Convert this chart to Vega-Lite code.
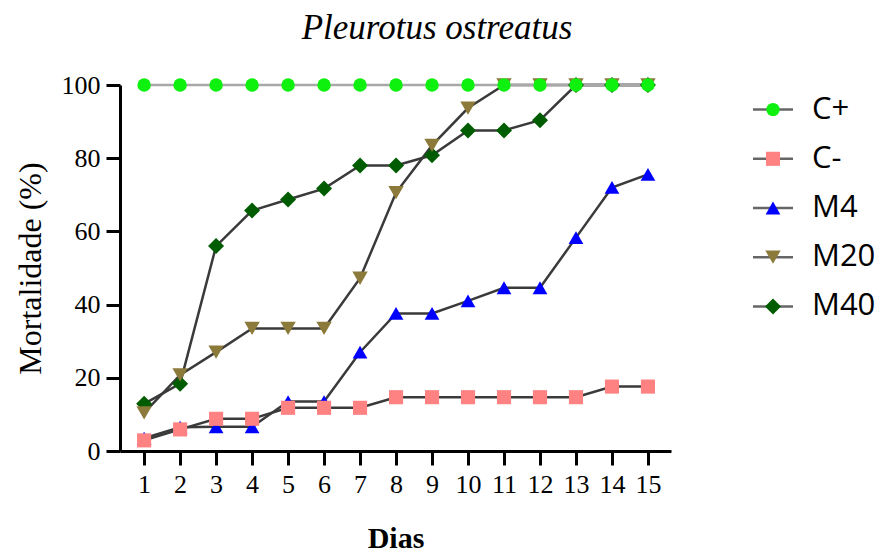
{
  "$schema": "https://vega.github.io/schema/vega-lite/v6.json",
  "background": "white",
  "padding": {"left": 14, "top": 11, "right": 0, "bottom": 0},
  "title": {
    "text": "Pleurotus ostreatus",
    "font": "Liberation Serif",
    "fontStyle": "italic",
    "fontWeight": "normal",
    "fontSize": 35,
    "color": "#000",
    "anchor": "middle",
    "dx": -10,
    "offset": 26
  },
  "config": {
    "view": {"stroke": null},
    "axis": {
      "domainColor": "#000",
      "domainWidth": 3,
      "tickColor": "#000",
      "tickWidth": 3,
      "tickSize": 14,
      "grid": false,
      "labelFont": "Liberation Serif",
      "labelFontSize": 26,
      "labelColor": "#000",
      "titleFont": "Liberation Serif",
      "titleColor": "#000"
    }
  },
  "spacing": 80,
  "datasets": {
    "mort": [
      {"dia": 1, "C+": 100, "C-": 2.9, "M4": 3.5, "M20": 10.4, "M40": 12.9},
      {"dia": 2, "C+": 100, "C-": 5.9, "M4": 6.5, "M20": 20.8, "M40": 18.4},
      {"dia": 3, "C+": 100, "C-": 8.8, "M4": 6.6, "M20": 27.0, "M40": 56.0},
      {"dia": 4, "C+": 100, "C-": 8.8, "M4": 6.6, "M20": 33.5, "M40": 65.7},
      {"dia": 5, "C+": 100, "C-": 11.8, "M4": 13.5, "M20": 33.5, "M40": 68.7},
      {"dia": 6, "C+": 100, "C-": 11.8, "M4": 13.5, "M20": 33.5, "M40": 71.7},
      {"dia": 7, "C+": 100, "C-": 11.8, "M4": 27.0, "M20": 47.2, "M40": 78.0},
      {"dia": 8, "C+": 100, "C-": 14.7, "M4": 37.6, "M20": 70.6, "M40": 78.0},
      {"dia": 9, "C+": 100, "C-": 14.7, "M4": 37.6, "M20": 83.5, "M40": 80.8},
      {"dia": 10, "C+": 100, "C-": 14.7, "M4": 41.0, "M20": 93.7, "M40": 87.6},
      {"dia": 11, "C+": 100, "C-": 14.7, "M4": 44.6, "M20": 100, "M40": 87.6},
      {"dia": 12, "C+": 100, "C-": 14.7, "M4": 44.6, "M20": 100, "M40": 90.4},
      {"dia": 13, "C+": 100, "C-": 14.7, "M4": 58.3, "M20": 100, "M40": 100},
      {"dia": 14, "C+": 100, "C-": 17.6, "M4": 72.0, "M20": 100, "M40": 100},
      {"dia": 15, "C+": 100, "C-": 17.6, "M4": 75.6, "M20": 100, "M40": 100}
    ],
    "grupos": [
      {"grupo": "C+"}, {"grupo": "C-"}, {"grupo": "M4"}, {"grupo": "M20"}, {"grupo": "M40"}
    ]
  },
  "hconcat": [
    {
      "width": 551,
      "height": 366,
      "data": {"name": "mort"},
      "transform": [
        {"fold": ["M40", "M20", "M4", "C-", "C+"], "as": ["grupo", "mortalidade"]}
      ],
      "encoding": {
        "x": {
          "field": "dia",
          "type": "quantitative",
          "scale": {"domain": [0.33, 15.64], "nice": false, "zero": false},
          "axis": {
            "values": [1,2,3,4,5,6,7,8,9,10,11,12,13,14,15],
            "title": "Dias",
            "titleFontSize": 30,
            "titleFontWeight": "bold",
            "titlePadding": 26,
            "labelPadding": 6,
            "labelFlush": false
          }
        },
        "y": {
          "field": "mortalidade",
          "type": "quantitative",
          "scale": {"domain": [0, 100], "nice": false},
          "axis": {
            "values": [0, 20, 40, 60, 80, 100],
            "title": "Mortalidade (%)",
            "titleFontSize": 32,
            "titleFontWeight": "normal",
            "titlePadding": 14,
            "labelPadding": 6,
            "labelFlush": false
          }
        }
      },
      "layer": [
        {
          "mark": {"type": "line", "strokeWidth": 2.5},
          "encoding": {
            "stroke": {
              "field": "grupo",
              "type": "nominal",
              "scale": {"domain": ["C+", "C-", "M4", "M20", "M40"], "range": ["#a8a8a8", "#3a3a3a", "#3a3a3a", "#3a3a3a", "#3a3a3a"]},
              "legend": null
            },
            "order": {"field": "dia"}
          }
        },
        {
          "mark": {"type": "point", "filled": true, "opacity": 1, "strokeWidth": 0},
          "encoding": {
            "fill": {
              "field": "grupo",
              "type": "nominal",
              "scale": {"domain": ["C+", "C-", "M4", "M20", "M40"], "range": ["#0ef00e", "#ff8282", "#0000ff", "#8b7a3a", "#005c00"]},
              "legend": null
            },
            "shape": {
              "field": "grupo",
              "type": "nominal",
              "scale": {"domain": ["C+", "C-", "M4", "M20", "M40"], "range": ["circle", "square", "triangle-up", "triangle-down", "diamond"]},
              "legend": null
            },
            "size": {
              "field": "grupo",
              "type": "nominal",
              "scale": {"domain": ["C+", "C-", "M4", "M20", "M40"], "range": [180, 256, 200, 200, 169]},
              "legend": null
            }
          }
        }
      ]
    },
    {
      "width": 127,
      "height": 246,
      "data": {"name": "grupos"},
      "encoding": {
        "y": {
          "field": "grupo",
          "type": "nominal",
          "scale": {"type": "point", "domain": ["C+", "C-", "M4", "M20", "M40"], "padding": 0.5},
          "axis": null
        }
      },
      "layer": [
        {
          "mark": {"type": "rule", "stroke": "#666", "strokeWidth": 2.5},
          "encoding": {
            "x": {"datum": 0, "type": "quantitative", "scale": {"domain": [0, 127], "nice": false}, "axis": null},
            "x2": {"datum": 40}
          }
        },
        {
          "mark": {"type": "point", "filled": true, "opacity": 1, "strokeWidth": 0},
          "encoding": {
            "x": {"datum": 20, "type": "quantitative", "scale": {"domain": [0, 127], "nice": false}, "axis": null},
            "fill": {
              "field": "grupo",
              "type": "nominal",
              "scale": {"domain": ["C+", "C-", "M4", "M20", "M40"], "range": ["#0ef00e", "#ff8282", "#0000ff", "#8b7a3a", "#005c00"]},
              "legend": null
            },
            "shape": {
              "field": "grupo",
              "type": "nominal",
              "scale": {"domain": ["C+", "C-", "M4", "M20", "M40"], "range": ["circle", "square", "triangle-up", "triangle-down", "diamond"]},
              "legend": null
            },
            "size": {
              "field": "grupo",
              "type": "nominal",
              "scale": {"domain": ["C+", "C-", "M4", "M20", "M40"], "range": [180, 256, 200, 200, 169]},
              "legend": null
            }
          }
        },
        {
          "mark": {"type": "text", "align": "left", "baseline": "middle", "font": "Open Sans", "fontSize": 31, "color": "#000"},
          "encoding": {
            "x": {"datum": 59, "type": "quantitative", "scale": {"domain": [0, 127], "nice": false}, "axis": null},
            "text": {"field": "grupo"}
          }
        }
      ]
    }
  ]
}
